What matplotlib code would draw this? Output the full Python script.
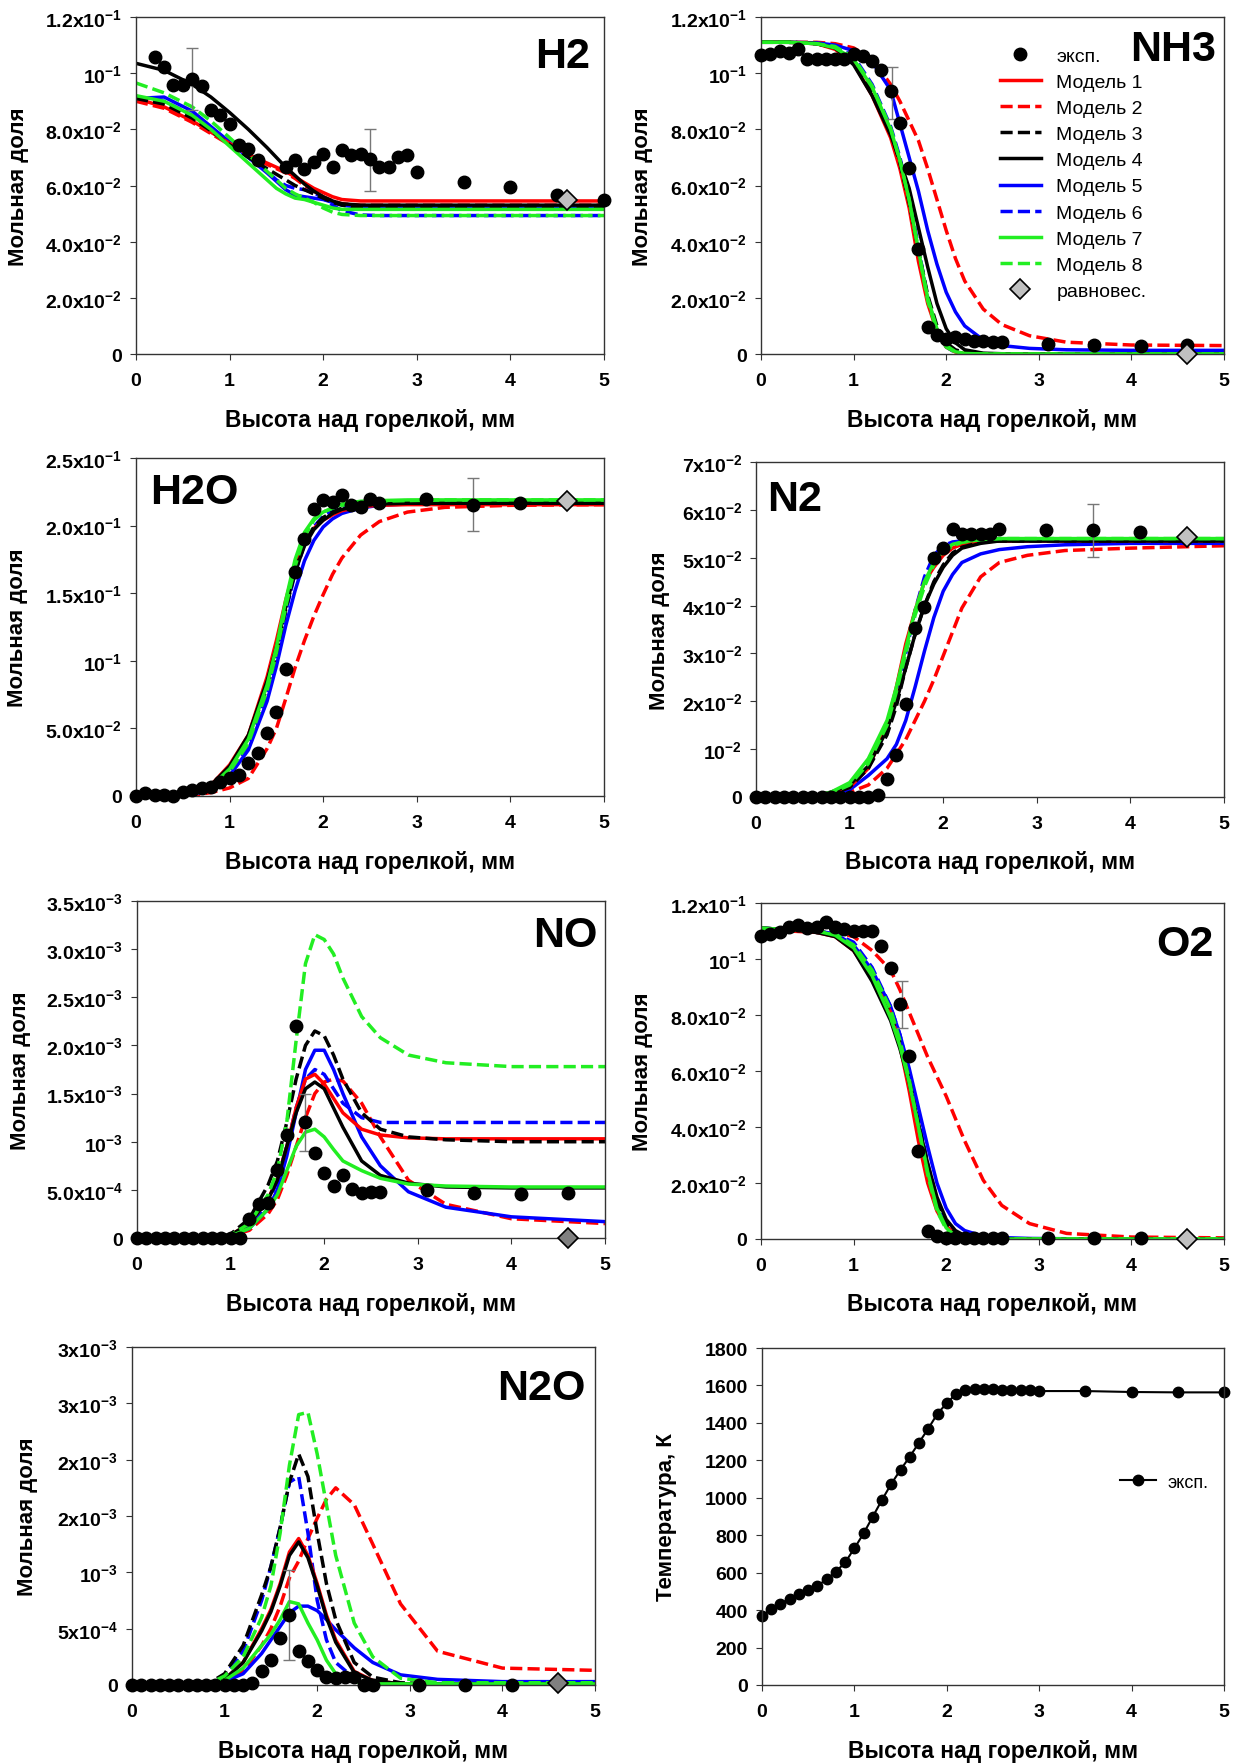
import matplotlib
matplotlib.use("Agg")
import matplotlib.pyplot as plt
from matplotlib.lines import Line2D

plt.rcParams.update({
    "font.family": ["Liberation Sans", "DejaVu Sans"],
    "font.weight": "bold",
    "mathtext.fontset": "custom",
    "mathtext.rm": "Liberation Sans:bold",
    "mathtext.it": "Liberation Sans:bold",
    "mathtext.bf": "Liberation Sans:bold",
    "mathtext.default": "rm",
})

# ---------------------------------------------------------------- data
MODEL_NAMES = ["Модель 1", "Модель 2", "Модель 3", "Модель 4",
               "Модель 5", "Модель 6", "Модель 7", "Модель 8"]
X_LABEL = "Высота над горелкой, мм"
Y_LABEL = "Мольная доля"

X = [0, 0.3, 0.6, 0.8, 1.0, 1.2, 1.4, 1.5, 1.6, 1.7, 1.8, 1.9, 2.0, 2.1,
     2.2, 2.4, 2.6, 2.9, 3.3, 4.0, 5.0]

STEP_X = [0.0, 0.1, 0.2, 0.3, 0.4, 0.5, 0.6, 0.7, 0.8, 0.9, 1.0, 1.1, 1.2,
          1.3, 1.4, 1.5, 1.6, 1.7, 1.8, 1.9, 2.0, 2.1, 2.2, 2.3, 2.4, 2.5, 2.6]

# H2, units of 1e-2
H2_MODELS = [
    [9.1, 8.8, 8.3, 7.9, 7.5, 7.1, 6.8, 6.65, 6.5, 6.3, 6.1, 5.9, 5.75, 5.6, 5.5, 5.45, 5.45, 5.45, 5.45, 5.45, 5.45],
    [9.0, 8.75, 8.25, 7.85, 7.45, 7.05, 6.75, 6.6, 6.45, 6.25, 6.0, 5.8, 5.6, 5.45, 5.35, 5.3, 5.3, 5.3, 5.3, 5.3, 5.3],
    [9.1, 8.9, 8.4, 7.95, 7.45, 7.0, 6.6, 6.4, 6.2, 6.0, 5.85, 5.7, 5.55, 5.4, 5.3, 5.22, 5.2, 5.2, 5.2, 5.2, 5.2],
    [10.35, 10.1, 9.6, 9.15, 8.6, 8.0, 7.35, 7.0, 6.65, 6.35, 6.05, 5.8, 5.6, 5.45, 5.35, 5.3, 5.3, 5.3, 5.3, 5.3, 5.3],
    [9.1, 9.15, 8.65, 8.1, 7.55, 7.0, 6.45, 6.15, 5.85, 5.65, 5.6, 5.55, 5.5, 5.4, 5.3, 5.22, 5.2, 5.2, 5.2, 5.2, 5.2],
    [9.1, 9.0, 8.5, 8.0, 7.5, 7.0, 6.5, 6.2, 6.0, 5.9, 5.85, 5.75, 5.55, 5.3, 5.1, 4.95, 4.93, 4.93, 4.93, 4.93, 4.93],
    [9.2, 9.0, 8.5, 8.0, 7.4, 6.8, 6.2, 5.9, 5.7, 5.55, 5.5, 5.4, 5.3, 5.2, 5.15, 5.15, 5.15, 5.15, 5.15, 5.15, 5.15],
    [9.65, 9.3, 8.8, 8.3, 7.7, 7.1, 6.5, 6.2, 5.9, 5.7, 5.55, 5.4, 5.2, 5.05, 4.97, 4.93, 4.93, 4.93, 4.93, 4.93, 4.93],
]
H2_EXP_X = [0.2, 0.3, 0.4, 0.5, 0.6, 0.7, 0.8, 0.9, 1.0, 1.1, 1.2, 1.3, 1.6, 1.7, 1.8, 1.9,
            2.0, 2.1, 2.2, 2.3, 2.4, 2.5, 2.6, 2.7, 2.8, 2.9, 3.0, 3.5, 4.0, 4.5, 5.0]
H2_EXP_Y = [10.58, 10.22, 9.59, 9.59, 9.8, 9.54, 8.68, 8.5, 8.2, 7.43, 7.31, 6.9, 6.66, 6.9, 6.6, 6.83,
            7.13, 6.66, 7.25, 7.07, 7.13, 6.95, 6.66, 6.66, 7.01, 7.07, 6.48, 6.14, 5.94, 5.65, 5.47]
H2_ERR = [(0.6, 9.8, 1.1), (2.5, 6.9, 1.1)]
H2_EQ = 5.47

# NH3, units of 1e-2
NH3_MODELS = [
    [11.1, 11.1, 11.05, 10.85, 10.35, 9.2, 7.7, 6.6, 5.2, 3.3, 1.8, 0.8, 0.25, 0.07, 0.02, 0, 0, 0, 0, 0, 0],
    [11.1, 11.1, 11.1, 11.05, 10.9, 10.5, 9.6, 9.0, 8.3, 7.6, 6.6, 5.5, 4.4, 3.4, 2.6, 1.6, 1.05, 0.65, 0.42, 0.32, 0.3],
    [11.1, 11.1, 11.05, 10.9, 10.45, 9.4, 7.9, 6.8, 5.4, 3.7, 2.1, 1.0, 0.4, 0.15, 0.05, 0.01, 0, 0, 0, 0, 0],
    [11.1, 11.1, 11.05, 10.9, 10.3, 9.2, 7.8, 6.9, 5.9, 4.5, 3.1, 1.8, 0.9, 0.4, 0.15, 0.03, 0.01, 0, 0, 0, 0],
    [11.1, 11.1, 11.08, 11.0, 10.8, 10.4, 9.4, 8.2, 7.0, 5.8, 4.4, 3.2, 2.2, 1.5, 1.0, 0.5, 0.3, 0.2, 0.15, 0.13, 0.13],
    [11.1, 11.1, 11.05, 10.95, 10.6, 9.6, 8.1, 7.0, 5.6, 3.8, 2.0, 0.8, 0.25, 0.05, 0, 0, 0, 0, 0, 0, 0],
    [11.1, 11.1, 11.05, 10.9, 10.5, 9.5, 8.0, 6.9, 5.5, 3.7, 2.0, 0.9, 0.3, 0.08, 0.02, 0, 0, 0, 0, 0, 0],
    [11.1, 11.1, 11.05, 10.95, 10.55, 9.55, 8.05, 6.9, 5.5, 3.7, 1.9, 0.8, 0.25, 0.06, 0.01, 0, 0, 0, 0, 0, 0],
]
NH3_EXP_X = STEP_X + [3.1, 3.6, 4.1, 4.6]
NH3_EXP_Y = [10.64, 10.67, 10.79, 10.73, 10.85, 10.52, 10.52, 10.52, 10.52, 10.52,
             10.67, 10.6, 10.43, 10.13, 9.36, 8.22, 6.62, 3.75, 0.95, 0.66,
             0.54, 0.6, 0.54, 0.48, 0.48, 0.42, 0.42, 0.36, 0.32, 0.3, 0.32]
NH3_ERR = [(1.42, 9.3, 0.93)]
NH3_EQ = 0.0

# H2O, units of 1e-2
H2O_MODELS = [
    [0, 0, 0.2, 0.8, 2.3, 4.5, 8.8, 11.5, 14.5, 17.0, 18.8, 19.8, 20.4, 20.8, 21.1, 21.4, 21.5, 21.55, 21.55, 21.55, 21.55],
    [0, 0, 0.05, 0.25, 0.6, 1.3, 3.5, 5.0, 7.2, 9.5, 11.5, 13.3, 14.9, 16.4, 17.6, 19.3, 20.3, 21.0, 21.35, 21.5, 21.55],
    [0, 0, 0.15, 0.7, 2.0, 4.3, 8.0, 10.6, 13.8, 16.6, 18.7, 19.9, 20.6, 21.0, 21.3, 21.6, 21.7, 21.75, 21.75, 21.75, 21.75],
    [0, 0, 0.2, 0.8, 2.2, 4.5, 8.5, 11.0, 14.0, 16.6, 18.5, 19.7, 20.4, 20.9, 21.2, 21.5, 21.6, 21.65, 21.65, 21.65, 21.65],
    [0, 0, 0.1, 0.5, 1.5, 3.4, 7.0, 9.6, 12.6, 15.2, 17.4, 18.9, 19.9, 20.5, 20.9, 21.3, 21.5, 21.6, 21.65, 21.65, 21.65],
    [0, 0, 0.1, 0.5, 1.6, 3.7, 7.5, 10.3, 13.6, 16.5, 18.6, 19.9, 20.7, 21.1, 21.4, 21.7, 21.8, 21.8, 21.8, 21.8, 21.8],
    [0, 0, 0.15, 0.7, 2.0, 4.2, 8.2, 11.0, 14.5, 17.5, 19.5, 20.5, 21.0, 21.3, 21.6, 21.8, 21.85, 21.9, 21.9, 21.9, 21.9],
    [0, 0, 0.1, 0.6, 1.8, 3.9, 7.8, 10.6, 14.0, 17.0, 19.2, 20.4, 21.0, 21.3, 21.5, 21.7, 21.8, 21.85, 21.9, 21.9, 21.9],
]
H2O_EXP_X = STEP_X + [3.1, 3.6, 4.1]
H2O_EXP_Y = [0, 0.2, 0.1, 0.1, 0, 0.27, 0.44, 0.57, 0.69, 1.06,
             1.3, 1.55, 2.41, 3.15, 4.63, 6.23, 9.43, 16.57, 19.04, 21.26,
             21.87, 21.75, 22.24, 21.5, 21.38, 22.0, 21.7, 22.0, 21.5, 21.7]
H2O_ERR = [(3.6, 21.55, 1.97)]
H2O_EQ = 21.8

# N2, units of 1e-2
N2_MODELS = [
    [0, 0, 0.02, 0.08, 0.2, 0.6, 1.5, 2.3, 3.2, 3.9, 4.5, 4.8, 5.05, 5.2, 5.28, 5.33, 5.35, 5.35, 5.35, 5.35, 5.35],
    [0, 0, 0, 0.02, 0.1, 0.25, 0.6, 0.9, 1.2, 1.6, 2.0, 2.45, 2.95, 3.45, 3.95, 4.6, 4.9, 5.05, 5.15, 5.2, 5.25],
    [0, 0, 0, 0.05, 0.2, 0.6, 1.3, 1.9, 2.7, 3.4, 4.0, 4.5, 4.85, 5.1, 5.22, 5.32, 5.35, 5.35, 5.35, 5.35, 5.35],
    [0, 0, 0.02, 0.1, 0.25, 0.65, 1.4, 2.0, 2.7, 3.4, 4.0, 4.45, 4.8, 5.05, 5.2, 5.3, 5.35, 5.35, 5.35, 5.35, 5.35],
    [0, 0, 0, 0.03, 0.15, 0.45, 0.8, 1.1, 1.6, 2.3, 3.05, 3.75, 4.3, 4.65, 4.9, 5.08, 5.17, 5.23, 5.27, 5.3, 5.3],
    [0, 0, 0, 0.05, 0.2, 0.6, 1.4, 2.1, 3.0, 3.9, 4.6, 5.05, 5.25, 5.33, 5.35, 5.35, 5.35, 5.35, 5.35, 5.35, 5.35],
    [0, 0, 0, 0.1, 0.3, 0.8, 1.6, 2.3, 3.1, 3.9, 4.5, 4.9, 5.15, 5.28, 5.33, 5.38, 5.4, 5.4, 5.4, 5.4, 5.4],
    [0, 0, 0, 0.08, 0.25, 0.7, 1.5, 2.2, 3.0, 3.8, 4.4, 4.85, 5.1, 5.25, 5.32, 5.38, 5.4, 5.4, 5.4, 5.4, 5.4],
]
N2_EXP_X = STEP_X + [3.1, 3.6, 4.1]
N2_EXP_Y = [0, 0, 0, 0, 0, 0, 0, 0, 0, 0,
            0, 0, 0, 0.05, 0.37, 0.88, 1.94, 3.53, 3.98, 4.99,
            5.21, 5.61, 5.49, 5.49, 5.49, 5.49, 5.61, 5.58, 5.58, 5.54]
N2_ERR = [(3.6, 5.57, 0.56)]
N2_EQ = 5.44

# NO, units of 1e-3
NO_MODELS = [
    [0, 0, 0, 0, 0.03, 0.15, 0.4, 0.62, 0.95, 1.35, 1.65, 1.7, 1.6, 1.45, 1.3, 1.13, 1.07, 1.04, 1.03, 1.03, 1.03],
    [0, 0, 0, 0, 0.02, 0.08, 0.25, 0.4, 0.65, 0.95, 1.25, 1.5, 1.62, 1.65, 1.63, 1.4, 1.05, 0.6, 0.35, 0.2, 0.15],
    [0, 0, 0, 0, 0.04, 0.2, 0.55, 0.8, 1.2, 1.65, 2.0, 2.15, 2.1, 1.9, 1.65, 1.3, 1.13, 1.05, 1.02, 1.0, 1.0],
    [0, 0, 0, 0, 0.03, 0.15, 0.4, 0.6, 0.95, 1.3, 1.55, 1.62, 1.55, 1.35, 1.15, 0.8, 0.65, 0.57, 0.53, 0.52, 0.52],
    [0, 0, 0, 0, 0.02, 0.1, 0.3, 0.5, 0.85, 1.3, 1.75, 1.95, 1.95, 1.75, 1.5, 1.05, 0.75, 0.48, 0.32, 0.22, 0.17],
    [0, 0, 0, 0, 0.03, 0.12, 0.35, 0.6, 0.95, 1.35, 1.65, 1.75, 1.7, 1.55, 1.4, 1.25, 1.2, 1.2, 1.2, 1.2, 1.2],
    [0, 0, 0, 0, 0.02, 0.1, 0.3, 0.45, 0.7, 0.95, 1.1, 1.13, 1.05, 0.92, 0.8, 0.7, 0.62, 0.56, 0.54, 0.53, 0.53],
    [0, 0, 0, 0, 0.03, 0.15, 0.45, 0.7, 1.2, 2.05, 2.85, 3.15, 3.1, 2.95, 2.7, 2.3, 2.08, 1.9, 1.82, 1.78, 1.78],
]
NO_EXP_X = STEP_X + [3.1, 3.6, 4.1, 4.6]
NO_EXP_Y = [0, 0, 0, 0, 0, 0, 0, 0, 0, 0, 0, 0,
            0.2, 0.35, 0.36, 0.71, 1.07, 2.2, 1.2, 0.88, 0.68, 0.54, 0.65, 0.51, 0.47, 0.48, 0.48,
            0.5, 0.47, 0.46, 0.47]
NO_ERR = [(1.8, 1.2, 0.3)]
NO_EQ = 0.0

# O2, units of 1e-2
O2_MODELS = [
    [11.1, 11.0, 10.95, 10.8, 10.3, 9.3, 8.1, 6.9, 5.3, 3.5, 2.0, 1.0, 0.45, 0.2, 0.08, 0.02, 0, 0, 0, 0, 0],
    [11.1, 11.05, 11.0, 10.95, 10.8, 10.3, 9.6, 8.9, 8.1, 7.3, 6.5, 5.8, 5.1, 4.3, 3.5, 2.1, 1.2, 0.55, 0.2, 0.07, 0.04],
    [11.1, 11.05, 11.0, 10.85, 10.4, 9.4, 8.0, 7.0, 5.7, 4.1, 2.6, 1.3, 0.55, 0.2, 0.07, 0.02, 0, 0, 0, 0, 0],
    [11.1, 11.05, 10.95, 10.8, 10.3, 9.2, 7.8, 6.8, 5.6, 4.1, 2.7, 1.5, 0.7, 0.3, 0.12, 0.03, 0.01, 0, 0, 0, 0],
    [11.1, 11.05, 11.0, 10.9, 10.5, 9.6, 8.3, 7.3, 6.1, 4.7, 3.3, 2.0, 1.1, 0.55, 0.3, 0.1, 0.05, 0.02, 0.01, 0, 0],
    [11.1, 11.05, 11.0, 10.9, 10.6, 9.7, 8.3, 7.3, 5.9, 4.3, 2.7, 1.4, 0.6, 0.2, 0.07, 0.02, 0, 0, 0, 0, 0],
    [11.1, 11.05, 11.0, 10.85, 10.4, 9.4, 7.9, 6.9, 5.6, 4.0, 2.4, 1.1, 0.4, 0.1, 0.03, 0, 0, 0, 0, 0, 0],
    [11.1, 11.05, 11.0, 10.9, 10.5, 9.6, 8.2, 7.1, 5.7, 4.0, 2.3, 1.0, 0.35, 0.1, 0.03, 0, 0, 0, 0, 0, 0],
]
O2_EXP_X = STEP_X + [3.1, 3.6, 4.1]
O2_EXP_Y = [10.83, 10.9, 10.98, 11.13, 11.21, 11.1, 11.13, 11.31, 11.13, 11.07,
            11.01, 11.01, 11.01, 10.48, 9.67, 8.39, 6.55, 3.15, 0.3, 0.1,
            0.02, 0.05, 0.05, 0.02, 0.02, 0.03, 0.03, 0.02, 0.02, 0.02]
O2_ERR = [(1.52, 8.39, 0.84)]
O2_EQ = 0.0

# N2O, units of 1e-3
N2O_MODELS = [
    [0, 0, 0, 0, 0.05, 0.2, 0.5, 0.67, 0.9, 1.18, 1.3, 1.15, 0.9, 0.62, 0.4, 0.12, 0.04, 0.01, 0.01, 0.01, 0.01],
    [0, 0, 0, 0, 0.03, 0.12, 0.35, 0.5, 0.7, 0.95, 1.1, 1.3, 1.48, 1.65, 1.75, 1.6, 1.25, 0.72, 0.3, 0.15, 0.13],
    [0, 0, 0, 0, 0.1, 0.35, 0.8, 1.05, 1.4, 1.8, 2.05, 1.85, 1.35, 0.9, 0.58, 0.2, 0.07, 0.02, 0.01, 0.01, 0.01],
    [0, 0, 0, 0, 0.05, 0.2, 0.48, 0.65, 0.88, 1.15, 1.27, 1.13, 0.88, 0.6, 0.38, 0.11, 0.04, 0.01, 0.01, 0.01, 0.01],
    [0, 0, 0, 0, 0.03, 0.1, 0.28, 0.4, 0.52, 0.64, 0.7, 0.7, 0.66, 0.58, 0.49, 0.33, 0.2, 0.09, 0.05, 0.03, 0.03],
    [0, 0, 0, 0, 0.08, 0.3, 0.75, 1.05, 1.4, 1.8, 1.85, 1.35, 0.75, 0.4, 0.2, 0.06, 0.02, 0.01, 0.01, 0.01, 0.01],
    [0, 0, 0, 0, 0.04, 0.15, 0.35, 0.45, 0.58, 0.74, 0.72, 0.55, 0.4, 0.22, 0.1, 0.03, 0.01, 0.01, 0.01, 0.01, 0.01],
    [0, 0, 0, 0, 0.08, 0.25, 0.6, 0.88, 1.35, 1.95, 2.4, 2.42, 2.05, 1.6, 1.15, 0.55, 0.25, 0.06, 0.02, 0.02, 0.02],
]
N2O_EXP_X = STEP_X + [3.1, 3.6, 4.1]
N2O_EXP_Y = [0, 0, 0, 0, 0, 0, 0, 0, 0, 0, 0, 0, 0,
             0.02, 0.12, 0.22, 0.42, 0.62, 0.3, 0.21, 0.13, 0.07, 0.06, 0.07, 0.07, 0, 0,
             0, 0, 0]
N2O_ERR = [(1.7, 0.62, 0.4)]
N2O_EQ = 0.02

# temperature, K
T_X = STEP_X + [2.7, 2.8, 2.9, 3.0, 3.5, 4.0, 4.5, 5.0]
T_Y = [370, 405, 435, 460, 485, 505, 530, 565, 605, 655,
       730, 810, 900, 990, 1075, 1150, 1220, 1295, 1370, 1450,
       1505, 1555, 1575, 1580, 1580, 1580, 1578, 1575, 1575, 1573,
       1570, 1570, 1565, 1563, 1563]

# y tick labels as printed
TICKS_E2_12 = [0, 2, 4, 6, 8, 10, 12]
LABELS_E2_12 = ["0", "2.0x10$^{-2}$", "4.0x10$^{-2}$", "6.0x10$^{-2}$",
                "8.0x10$^{-2}$", "10$^{-1}$", "1.2x10$^{-1}$"]
TICKS_H2O = [0, 5, 10, 15, 20, 25]
LABELS_H2O = ["0", "5.0x10$^{-2}$", "10$^{-1}$", "1.5x10$^{-1}$",
              "2.0x10$^{-1}$", "2.5x10$^{-1}$"]
TICKS_N2 = [0, 1, 2, 3, 4, 5, 6, 7]
LABELS_N2 = ["0", "10$^{-2}$", "2x10$^{-2}$", "3x10$^{-2}$", "4x10$^{-2}$",
             "5x10$^{-2}$", "6x10$^{-2}$", "7x10$^{-2}$"]
TICKS_NO = [0, 0.5, 1.0, 1.5, 2.0, 2.5, 3.0, 3.5]
LABELS_NO = ["0", "5.0x10$^{-4}$", "10$^{-3}$", "1.5x10$^{-3}$",
             "2.0x10$^{-3}$", "2.5x10$^{-3}$", "3.0x10$^{-3}$", "3.5x10$^{-3}$"]
TICKS_N2O = [0, 0.5, 1.0, 1.5, 2.0, 2.5, 3.0]
LABELS_N2O = ["0", "5x10$^{-4}$", "10$^{-3}$", "2x10$^{-3}$", "2x10$^{-3}$",
              "3x10$^{-3}$", "3x10$^{-3}$"]
TICKS_T = [0, 200, 400, 600, 800, 1000, 1200, 1400, 1600, 1800]

# ---------------------------------------------------------------- style
RED, BLUE, GREEN, BLACK = "#ff0000", "#0000ff", "#22ee22", "#000000"
DASH = (0, (3.5, 1.5))
LW = 2.5
MODEL_STYLES = [(RED, "-"), (RED, DASH), (BLACK, DASH), (BLACK, "-"),
                (BLUE, "-"), (BLUE, DASH), (GREEN, "-"), (GREEN, DASH)]
DRAW_ORDER = [1, 4, 5, 0, 3, 2, 7, 6]
SPINE = "#333333"

W, H = 1243, 1765
fig = plt.figure(figsize=(W / 100, H / 100), dpi=100)


def make_axes(box):
    l, t, r, b = box
    return fig.add_axes([l / W, 1 - b / H, (r - l) / W, (b - t) / H])


def style_axes(ax, ylabel, ylabel_x):
    for side in ax.spines.values():
        side.set_color(SPINE)
        side.set_linewidth(1.0)
    ax.set_xlim(0, 5)
    ax.set_xticks([0, 1, 2, 3, 4, 5])
    ax.tick_params(axis="x", labelsize=14, length=4, pad=9, direction="out", color=SPINE)
    ax.tick_params(axis="y", labelsize=14, length=4, pad=6, direction="out", color=SPINE)
    ax.set_xlabel(X_LABEL, fontsize=16.5, fontweight="bold", va="center")
    ax.xaxis.set_label_coords(0.5, -0.193)
    ax.set_ylabel(ylabel, fontsize=16, fontweight="bold", va="center")
    ax.yaxis.set_label_coords(ylabel_x, 0.5)


def species_panel(box, models, exp_x, exp_y, errs, eq_y, eq_color, ylim,
                  ticks, labels, title, title_pos, ylabel_x):
    ax = make_axes(box)
    for i in DRAW_ORDER:
        color, ls = MODEL_STYLES[i]
        ax.plot(X, models[i], color=color, linestyle=ls, linewidth=LW)
    for ex, ey, ee in errs:
        ax.errorbar([ex], [ey], yerr=[ee], fmt="none", ecolor="#777777",
                    elinewidth=1.0, capsize=4, capthick=1.0, zorder=4)
    ax.plot(exp_x, exp_y, "o", color="black", markersize=9, zorder=5, clip_on=False)
    ax.plot([4.6], [eq_y], "D", color=eq_color, markeredgecolor="black",
            markeredgewidth=1.2, markersize=10, zorder=6, clip_on=False)
    ax.set_ylim(*ylim)
    ax.set_yticks(ticks)
    ax.set_yticklabels(labels)
    style_axes(ax, Y_LABEL, ylabel_x)
    ax.text(title_pos[0], title_pos[1], title, transform=ax.transAxes,
            fontsize=31, fontweight="bold", ha="center", va="center")
    return ax


species_panel((136, 18, 604, 355), H2_MODELS, H2_EXP_X, H2_EXP_Y, H2_ERR, H2_EQ, "#c0c0c0",
              (0, 12), TICKS_E2_12, LABELS_E2_12, "H2", (0.912, 0.885), -0.25)
ax_nh3 = species_panel((761, 18, 1224, 355), NH3_MODELS, NH3_EXP_X, NH3_EXP_Y, NH3_ERR, NH3_EQ,
                       "#c0c0c0", (0, 12), TICKS_E2_12, LABELS_E2_12, "NH3", (0.89, 0.905), -0.255)
species_panel((136, 459, 604, 797), H2O_MODELS, H2O_EXP_X, H2O_EXP_Y, H2O_ERR, H2O_EQ, "#c0c0c0",
              (0, 25), TICKS_H2O, LABELS_H2O, "H2O", (0.125, 0.9), -0.254)
species_panel((756, 463, 1224, 798), N2_MODELS, N2_EXP_X, N2_EXP_Y, N2_ERR, N2_EQ, "#c0c0c0",
              (0, 7), TICKS_N2, LABELS_N2, "N2", (0.082, 0.89), -0.207)
species_panel((137, 902, 605, 1239), NO_MODELS, NO_EXP_X, NO_EXP_Y, NO_ERR, NO_EQ, "#808080",
              (0, 3.5), TICKS_NO, LABELS_NO, "NO", (0.915, 0.9), -0.248)
species_panel((761, 904, 1224, 1240), O2_MODELS, O2_EXP_X, O2_EXP_Y, O2_ERR, O2_EQ, "#c0c0c0",
              (0, 12), TICKS_E2_12, LABELS_E2_12, "O2", (0.915, 0.878), -0.255)
species_panel((132, 1348, 595, 1686), N2O_MODELS, N2O_EXP_X, N2O_EXP_Y, N2O_ERR, N2O_EQ, "#808080",
              (0, 3.0), TICKS_N2O, LABELS_N2O, "N2O", (0.885, 0.88), -0.225)

# legend in NH3 panel
handles = [Line2D([], [], color="black", marker="o", linestyle="none", markersize=9)]
for color, ls in MODEL_STYLES:
    handles.append(Line2D([], [], color=color, linestyle=ls, linewidth=LW))
handles.append(Line2D([], [], color="#c0c0c0", marker="D", markeredgecolor="black",
                      markeredgewidth=1.2, linestyle="none", markersize=10))
ax_nh3.legend(handles, ["эксп."] + MODEL_NAMES + ["равновес."], loc="upper left",
              bbox_to_anchor=(0.495, 0.94), frameon=False, borderpad=0,
              prop={"size": 14, "weight": "normal"}, handlelength=2.1,
              handletextpad=0.8, labelspacing=0.44)

# temperature panel
ax_t = make_axes((762, 1349, 1224, 1686))
ax_t.plot(T_X, T_Y, "-o", color="black", linewidth=1.5, markersize=7.5, clip_on=False,
          label="эксп.")
ax_t.set_ylim(0, 1800)
ax_t.set_yticks(TICKS_T)
style_axes(ax_t, "Температура, К", -0.206)
ax_t.legend(loc="center left", bbox_to_anchor=(0.74, 0.602), frameon=False,
            prop={"size": 13, "weight": "normal"}, handlelength=2.0, handletextpad=0.6)

fig.savefig("out.png", dpi=100)
